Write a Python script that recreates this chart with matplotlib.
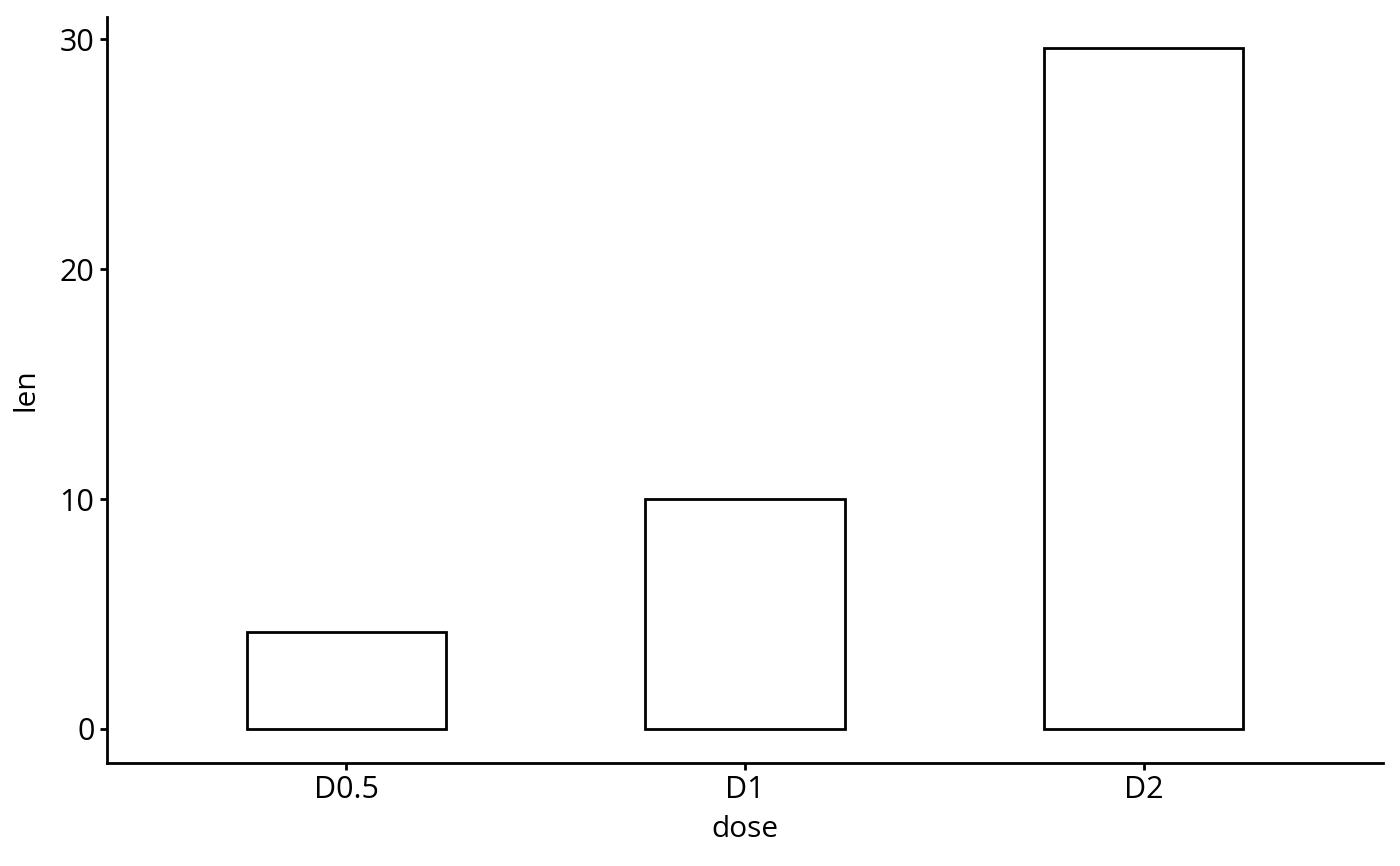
from matplotlib import pyplot as plt
import numpy as np

doses = ['D0.5', 'D1', 'D2']
lengths = [4.2, 10.0, 29.6]
y_ticks = [0, 10, 20, 30]

plt.rcParams['font.family'] = ['Open Sans', 'DejaVu Sans']

fig = plt.figure(figsize=(14, 8.66), dpi=100)
ax = fig.add_axes([107 / 1400, (866 - 763) / 866,
                   (1383 - 107) / 1400, (763 - 17) / 866])

x = np.arange(len(doses))
ax.bar(x, lengths, width=0.5, facecolor='white', edgecolor='black',
       linewidth=2.0)

# ggplot-style expansion around the data
ax.set_xlim(-0.6, len(doses) - 1 + 0.6)
ax.set_ylim(-1.48, 30.96)
ax.set_xticks(x)
ax.set_xticklabels(doses)
ax.set_yticks(y_ticks)

for side in ('top', 'right'):
    ax.spines[side].set_visible(False)
for side in ('left', 'bottom'):
    ax.spines[side].set_linewidth(2.0)

ax.tick_params(length=5, width=2.0, labelsize=22, colors='black', pad=4)
ax.set_xlabel('dose', fontsize=21.5, labelpad=7)
ax.set_ylabel('len', fontsize=21.5, labelpad=14)

plt.savefig('out.png', dpi=100)
